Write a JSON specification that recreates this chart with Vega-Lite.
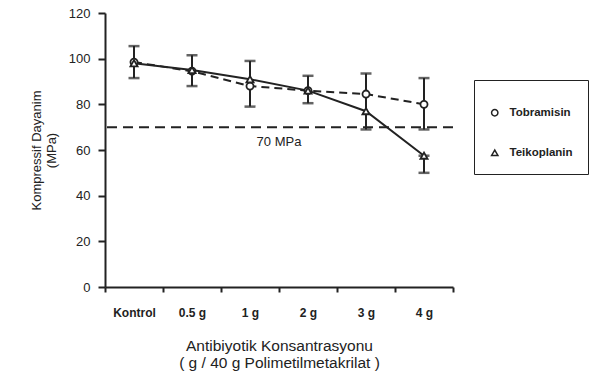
{
  "$schema": "https://vega.github.io/schema/vega-lite/v6.json",
  "width": 348,
  "height": 274,
  "autosize": {"type": "none"},
  "padding": {"left": 105, "top": 13, "right": 137, "bottom": 90},
  "background": "white",
  "config": {
    "view": {"stroke": null},
    "font": "Liberation Sans",
    "axis": {"domainColor": "#222", "domainWidth": 2, "tickColor": "#222", "tickWidth": 2, "labelColor": "#222", "titleColor": "#222", "grid": false}
  },
  "datasets": {
    "pts": [
      {"conc": "Kontrol", "series": "Tobramisin", "value": 98.5},
      {"conc": "0.5 g", "series": "Tobramisin", "value": 94.5},
      {"conc": "1 g", "series": "Tobramisin", "value": 88},
      {"conc": "2 g", "series": "Tobramisin", "value": 86},
      {"conc": "3 g", "series": "Tobramisin", "value": 84.5},
      {"conc": "4 g", "series": "Tobramisin", "value": 80},
      {"conc": "Kontrol", "series": "Teikoplanin", "value": 98},
      {"conc": "0.5 g", "series": "Teikoplanin", "value": 95},
      {"conc": "1 g", "series": "Teikoplanin", "value": 91},
      {"conc": "2 g", "series": "Teikoplanin", "value": 86},
      {"conc": "3 g", "series": "Teikoplanin", "value": 77},
      {"conc": "4 g", "series": "Teikoplanin", "value": 57.5}
    ],
    "err": [
      {"conc": "Kontrol", "lo": 91.5, "hi": 105.5},
      {"conc": "0.5 g", "lo": 88, "hi": 101.5},
      {"conc": "1 g", "lo": 79, "hi": 99},
      {"conc": "2 g", "lo": 80.5, "hi": 92.5},
      {"conc": "3 g", "lo": 69, "hi": 93.5},
      {"conc": "4 g", "lo": 69, "hi": 91.5},
      {"conc": "4 g", "lo": 50, "hi": 57.5}
    ]
  },
  "encoding": {
    "x": {
      "field": "conc", "type": "nominal",
      "sort": ["Kontrol", "0.5 g", "1 g", "2 g", "3 g", "4 g"],
      "scale": {"type": "band", "paddingInner": 0, "paddingOuter": 0, "domain": ["Kontrol", "0.5 g", "1 g", "2 g", "3 g", "4 g"]},
      "axis": {
        "title": ["Antibiyotik Konsantrasyonu", "( g / 40 g Polimetilmetakrilat )"],
        "labelAngle": 0, "tickBand": "extent", "tickSize": 5,
        "labelFont": "Liberation Sans", "labelFontSize": 12, "labelFontWeight": "bold", "labelPadding": 15,
        "titleFontSize": 15.5, "titleFontWeight": "normal", "titlePadding": 20, "titleLineHeight": 17
      }
    }
  },
  "layer": [
    {
      "data": {"name": "err"},
      "mark": {"type": "rule", "color": "#222", "strokeWidth": 2},
      "encoding": {
        "y": {"field": "lo", "type": "quantitative", "scale": {"domain": [0, 120]},
          "axis": {"title": ["Kompressif Dayanim", "(MPa)"], "values": [0, 20, 40, 60, 80, 100, 120], "tickSize": 7,
            "labelFontSize": 13, "labelPadding": 8, "titleFontSize": 13, "titleFontWeight": "normal", "titlePadding": 10, "titleLineHeight": 15}},
        "y2": {"field": "hi"}
      }
    },
    {
      "data": {"name": "err"},
      "mark": {"type": "tick", "color": "#222", "thickness": 2.5, "size": 11},
      "encoding": {"y": {"field": "lo", "type": "quantitative"}}
    },
    {
      "data": {"name": "err"},
      "mark": {"type": "tick", "color": "#222", "thickness": 2.5, "size": 11},
      "encoding": {"y": {"field": "hi", "type": "quantitative"}}
    },
    {
      "data": {"values": [{"v": 70}]},
      "mark": {"type": "rule", "color": "#222", "strokeWidth": 2, "strokeDash": [10, 6]},
      "encoding": {"y": {"field": "v", "type": "quantitative"}, "x": null}
    },
    {
      "data": {"values": [{"v": 70, "conc": "2 g", "t": "70 MPa"}]},
      "mark": {"type": "text", "color": "#222", "fontSize": 13, "dy": 15, "align": "center"},
      "encoding": {"y": {"field": "v", "type": "quantitative"}, "x": {"field": "conc", "type": "nominal", "bandPosition": 0, "sort": ["Kontrol", "0.5 g", "1 g", "2 g", "3 g", "4 g"]}, "text": {"field": "t"}}
    },
    {
      "data": {"name": "pts"},
      "transform": [{"filter": "datum.series === 'Tobramisin'"}],
      "mark": {"type": "line", "color": "#222", "strokeWidth": 2, "strokeDash": [8, 5]},
      "encoding": {"y": {"field": "value", "type": "quantitative"}}
    },
    {
      "data": {"name": "pts"},
      "transform": [{"filter": "datum.series === 'Teikoplanin'"}],
      "mark": {"type": "line", "color": "#222", "strokeWidth": 2},
      "encoding": {"y": {"field": "value", "type": "quantitative"}}
    },
    {
      "data": {"name": "pts"},
      "mark": {"type": "point", "filled": true, "fill": "white", "stroke": "#222", "strokeWidth": 1.8, "size": 50, "opacity": 1},
      "encoding": {
        "y": {"field": "value", "type": "quantitative"},
        "shape": {"field": "series", "type": "nominal",
          "scale": {"domain": ["Tobramisin", "Teikoplanin"], "range": ["circle", "triangle-up"]},
          "legend": {"title": "\u00a0", "titleFontSize": 6, "titlePadding": 6, "orient": "none", "legendX": 369, "legendY": 67, "strokeColor": "#222", "padding": 15,
            "rowPadding": 27, "symbolSize": 40, "symbolOffset": 0,
            "labelFontSize": 11.5, "labelFontWeight": "bold", "labelColor": "#222", "labelOffset": 9, "fillColor": "white",
            "encode": {
              "legend": {"update": {"strokeWidth": {"value": 2}}},
              "symbols": {"update": {"stroke": {"value": "#222"}, "strokeWidth": {"value": 2}, "fill": {"value": "white"}, "opacity": {"value": 1}}}}}
        }
      }
    }
  ]
}
